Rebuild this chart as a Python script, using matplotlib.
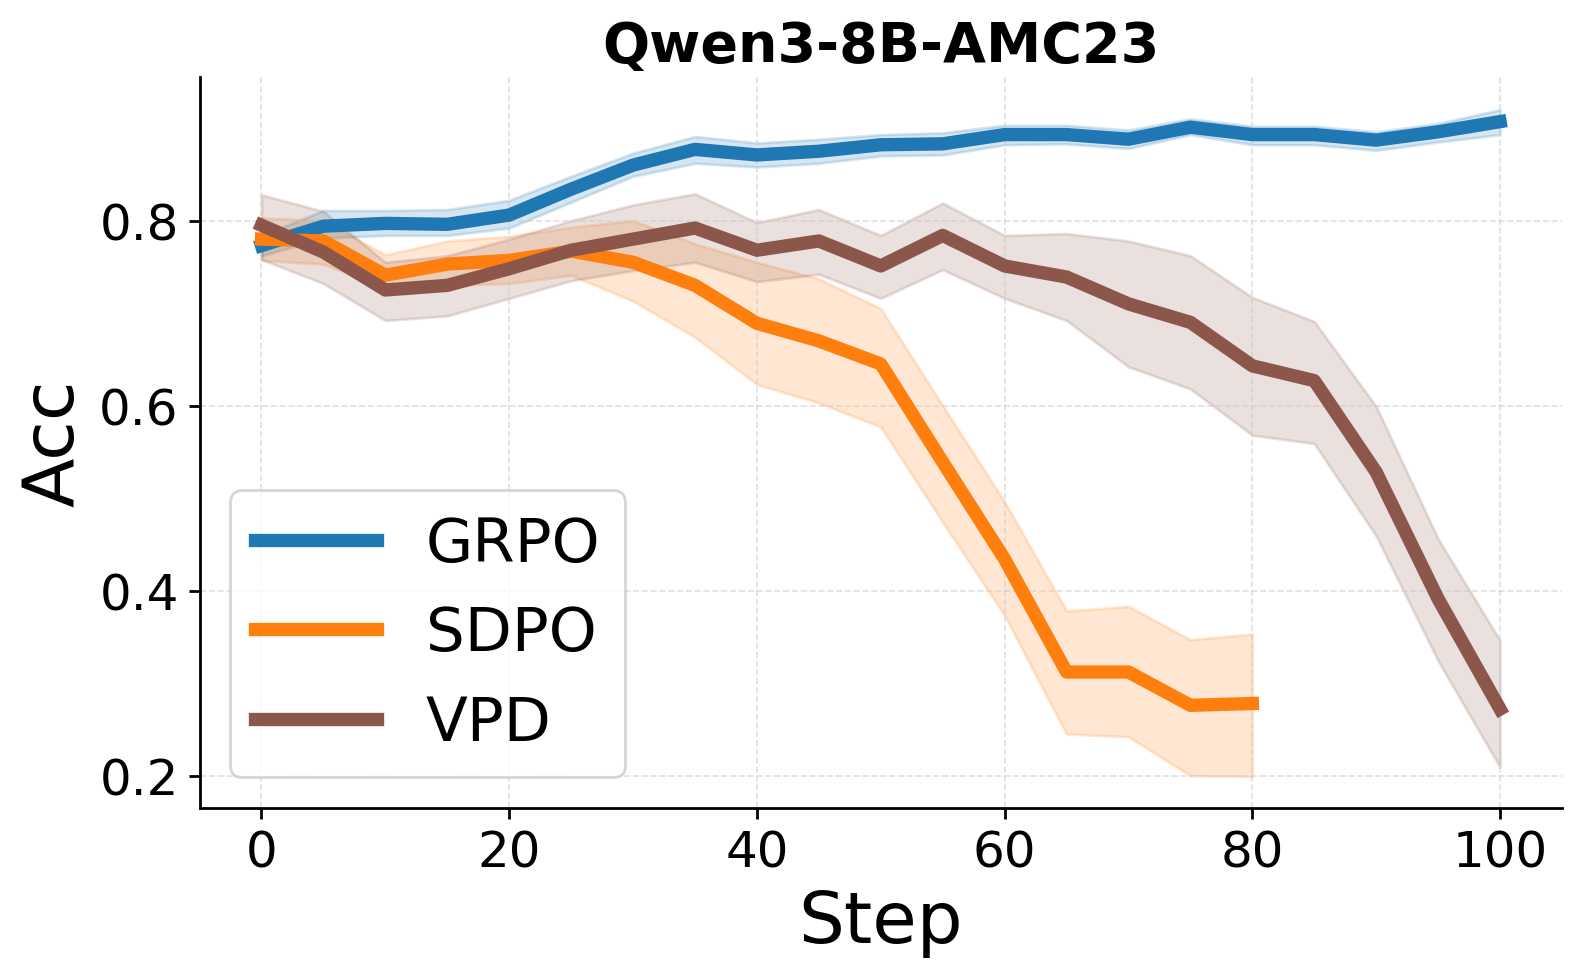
import matplotlib
matplotlib.use("Agg")
import matplotlib.pyplot as plt
import numpy as np

steps = [0, 5, 10, 15, 20, 25, 30, 35, 40, 45, 50, 55, 60, 65, 70, 75, 80, 85, 90, 95, 100]

grpo = [0.773, 0.794, 0.797, 0.796, 0.806, 0.834, 0.860, 0.877, 0.871, 0.875, 0.882,
        0.883, 0.893, 0.893, 0.888, 0.901, 0.893, 0.893, 0.887, 0.896, 0.907]
grpo_lo = [0.762, 0.781, 0.784, 0.784, 0.792, 0.820, 0.848, 0.862, 0.858, 0.862, 0.870,
           0.871, 0.882, 0.883, 0.878, 0.893, 0.882, 0.882, 0.876, 0.885, 0.893]
grpo_hi = [0.784, 0.811, 0.811, 0.812, 0.822, 0.848, 0.873, 0.891, 0.884, 0.888, 0.893,
           0.895, 0.903, 0.903, 0.898, 0.910, 0.902, 0.902, 0.896, 0.905, 0.920]

sdpo_steps = [0, 5, 10, 15, 20, 25, 30, 35, 40, 45, 50, 55, 60, 65, 70, 75, 80]
sdpo = [0.780, 0.778, 0.741, 0.753, 0.757, 0.767, 0.755, 0.730, 0.689, 0.670, 0.645,
        0.539, 0.434, 0.312, 0.312, 0.276, 0.278]
sdpo_lo = [0.757, 0.753, 0.727, 0.730, 0.732, 0.741, 0.713, 0.674, 0.623, 0.603, 0.577,
           0.474, 0.373, 0.245, 0.242, 0.200, 0.199]
sdpo_hi = [0.803, 0.800, 0.763, 0.778, 0.783, 0.793, 0.800, 0.775, 0.755, 0.737, 0.705,
           0.600, 0.496, 0.378, 0.383, 0.347, 0.353]

vpd = [0.795, 0.766, 0.725, 0.730, 0.748, 0.768, 0.780, 0.792, 0.768, 0.778, 0.751,
       0.784, 0.751, 0.739, 0.710, 0.690, 0.643, 0.627, 0.528, 0.391, 0.272]
vpd_lo = [0.758, 0.732, 0.692, 0.697, 0.716, 0.735, 0.746, 0.755, 0.734, 0.742, 0.716,
          0.747, 0.716, 0.692, 0.642, 0.618, 0.568, 0.559, 0.459, 0.324, 0.209]
vpd_hi = [0.828, 0.810, 0.755, 0.762, 0.780, 0.800, 0.817, 0.829, 0.798, 0.812, 0.784,
          0.819, 0.784, 0.786, 0.778, 0.762, 0.717, 0.691, 0.599, 0.456, 0.346]

title = "Qwen3-8B-AMC23"
labels = ["GRPO", "SDPO", "VPD"]
colors = ["#1f77b4", "#ff7f0e", "#8c564b"]

fig = plt.figure(figsize=(7.9, 4.89), dpi=200)
ax = fig.add_axes([0.1263, 0.1728, 0.8623, 0.7472])

series = [(steps, grpo, grpo_lo, grpo_hi), (sdpo_steps, sdpo, sdpo_lo, sdpo_hi),
          (steps, vpd, vpd_lo, vpd_hi)]
for (x, y, lo, hi), lab, c in zip(series, labels, colors):
    ax.fill_between(x, lo, hi, color=c, alpha=0.18, linewidth=1.0)
    ax.plot(x, y, color=c, linewidth=4.8, label=lab)

ax.set_xlim(-5, 105)
ax.set_ylim(0.165, 0.955)
ax.set_xticks([0, 20, 40, 60, 80, 100])
ax.set_yticks([0.2, 0.4, 0.6, 0.8])
ax.grid(True, linestyle="--", color="#cccccc", alpha=0.6, linewidth=0.6)
ax.spines["top"].set_visible(False)
ax.spines["right"].set_visible(False)
ax.spines["left"].set_linewidth(1.0)
ax.spines["bottom"].set_linewidth(1.0)
ax.tick_params(labelsize=18, width=1.0, length=4)
ax.set_xlabel("Step", fontsize=26, labelpad=4)
ax.set_ylabel("Acc", fontsize=26, labelpad=4)
ax.set_title(title, fontsize=20, fontweight="bold")
ax.legend(loc="lower left", fontsize=22, handlelength=2.0, frameon=True,
          borderaxespad=0.5)

fig.savefig("out.png", dpi=200)
